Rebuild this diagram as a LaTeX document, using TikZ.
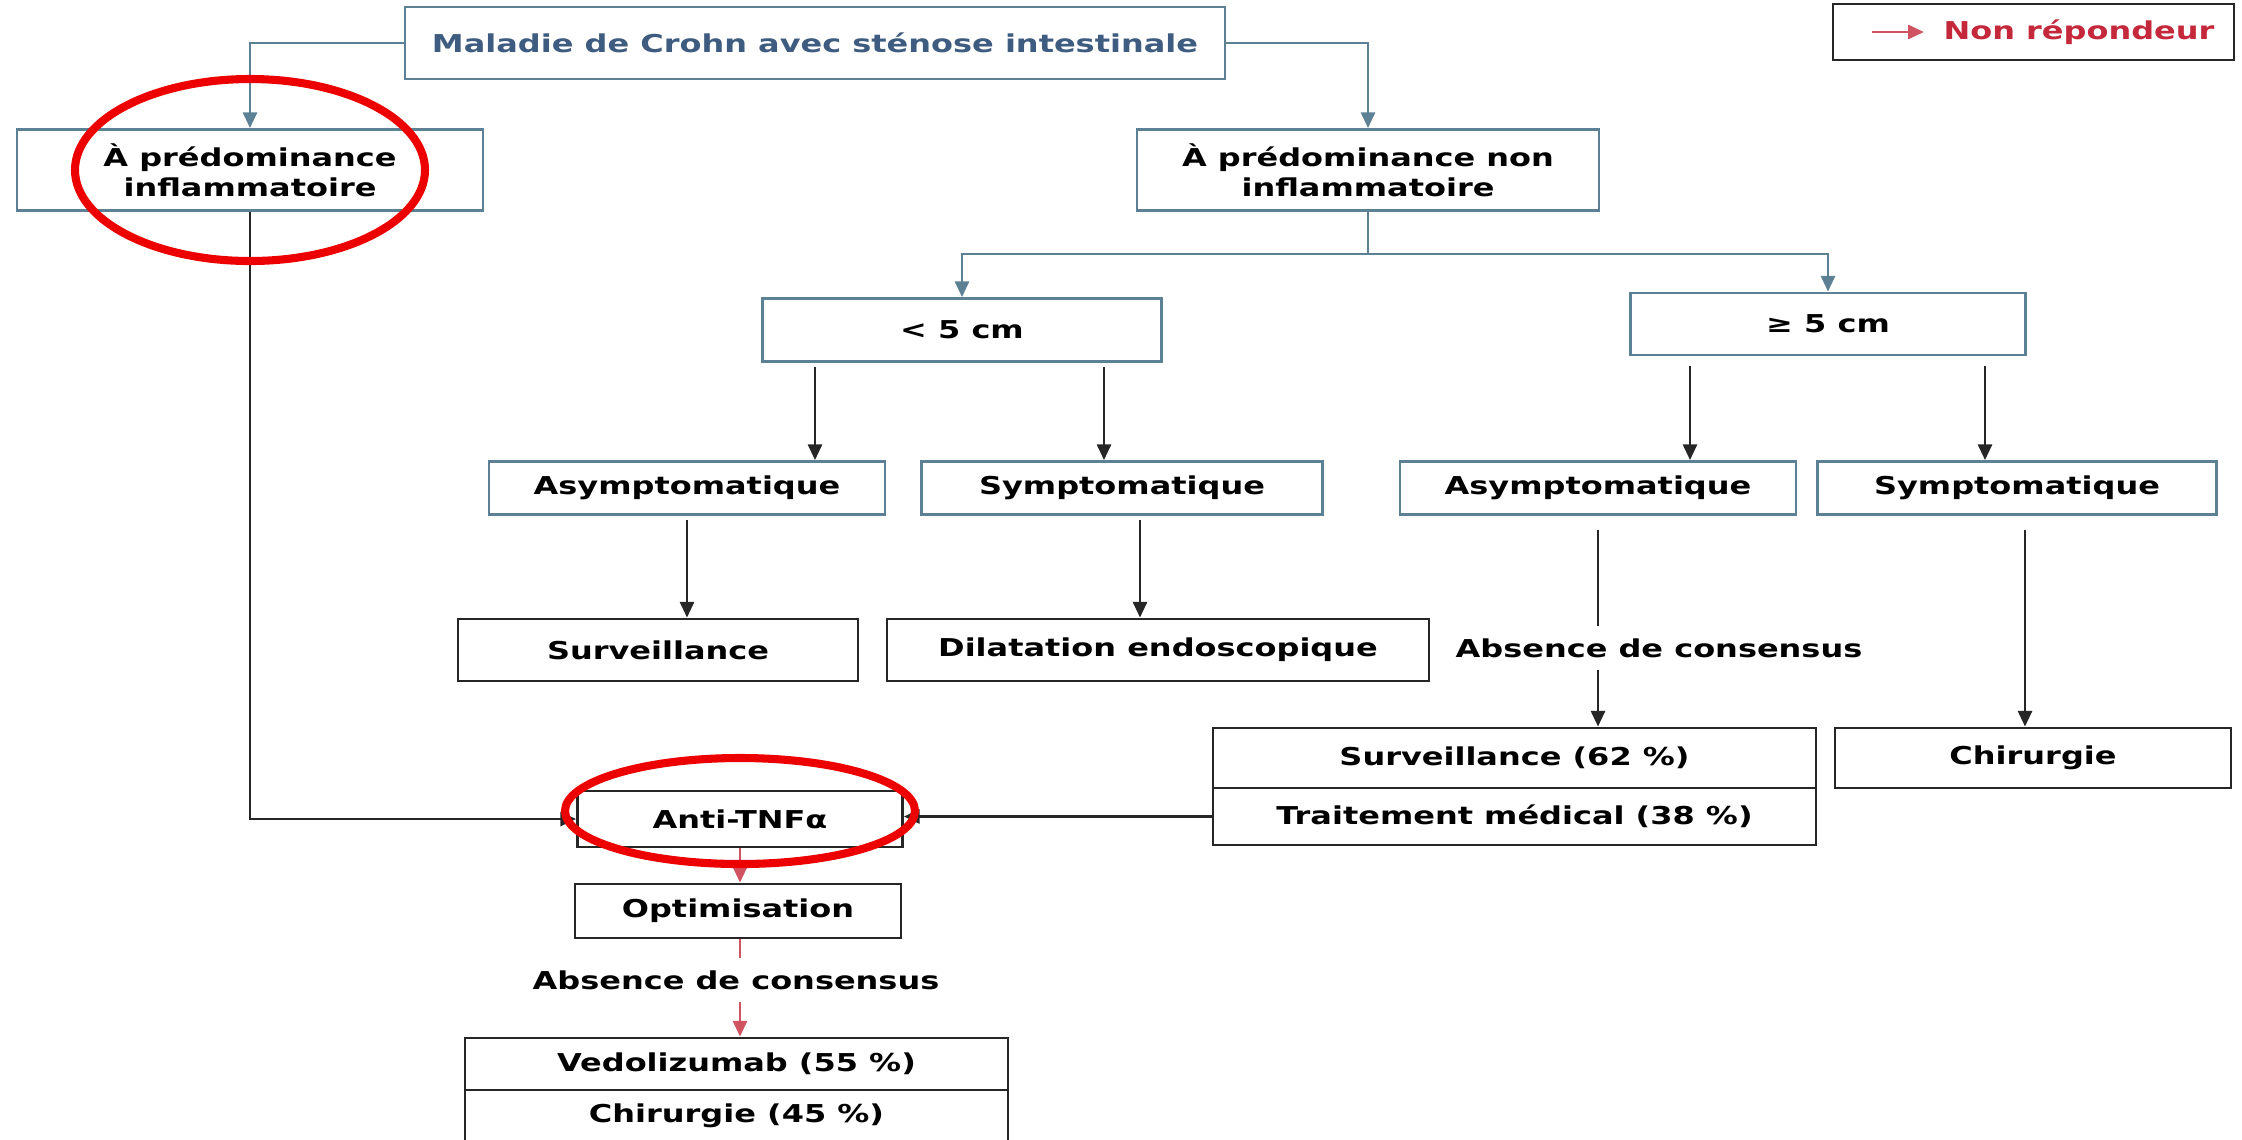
\documentclass[tikz,border=0pt]{standalone}
\usepackage{fontspec}
\setmainfont{DejaVu Sans}[FakeStretch=1.3]
\usepackage{tikz}
\usetikzlibrary{arrows.meta,positioning,calc}
\definecolor{boxblue}{RGB}{92,128,148}
\definecolor{titleblue}{RGB}{62,92,128}
\definecolor{nonrep}{RGB}{196,40,58}
\definecolor{ringred}{RGB}{236,0,0}

\begin{document}
\begin{tikzpicture}[
    every node/.style={font=\fontsize{7}{8.6}\selectfont\bfseries, inner sep=0pt},
    bbox/.style={draw=boxblue, line width=0.8pt, fill=white, align=center},
    kbox/.style={draw=black!85, line width=0.8pt, fill=white, align=center},
    bline/.style={draw=boxblue, line width=0.8pt},
    barr/.style={bline, -{Triangle[length=4.5pt,width=4pt]}},
    kline/.style={draw=black!85, line width=0.8pt},
    karr/.style={kline, -{Triangle[length=4.5pt,width=4pt]}},
    rline/.style={draw=nonrep!80, line width=0.8pt},
    rarr/.style={rline, -{Triangle[length=4.5pt,width=4pt]}},
    ring/.style={draw=ringred, line width=2.3pt}
]
    \useasboundingbox (0,0) rectangle (22.42,-11.39);

    % en-tete
    \node[bbox, text=titleblue, minimum width=8.20cm, minimum height=0.72cm] (crohn) at (8.15,-0.43) {Maladie de Crohn avec sténose intestinale};
    \node[bbox, minimum width=4.66cm, minimum height=0.81cm] (inflam) at (2.50,-1.70) {À prédominance\\inflammatoire};
    \node[bbox, minimum width=4.62cm, minimum height=0.81cm] (noninf) at (13.68,-1.70) {À prédominance non\\inflammatoire};

    % legende
    \node[kbox, minimum width=4.01cm, minimum height=0.56cm] (legend) at (20.335,-0.32) {};
    \node[text=nonrep] (nonrep) at (20.79,-0.32) {Non répondeur};
    \draw[rarr] ([xshift=0.4cm]legend.west) -- ([xshift=-0.19cm]nonrep.west);

    % longueur
    \node[bbox, minimum width=3.99cm, minimum height=0.63cm] (lt5) at (9.62,-3.30) {< 5 cm};
    \node[bbox, minimum width=3.95cm, minimum height=0.62cm] (ge5) at (18.28,-3.24) {≥ 5 cm};

    % symptomes
    \node[bbox, minimum width=3.96cm, minimum height=0.53cm] (asyA) at (6.87,-4.88) {Asymptomatique};
    \node[bbox, minimum width=4.01cm, minimum height=0.53cm] (symA) at (11.22,-4.88) {Symptomatique};
    \node[bbox, minimum width=3.96cm, minimum height=0.53cm] (asyB) at (15.98,-4.88) {Asymptomatique};
    \node[bbox, minimum width=3.99cm, minimum height=0.53cm] (symB) at (20.17,-4.88) {Symptomatique};

    % conduites
    \node[kbox, minimum width=4.00cm, minimum height=0.62cm] (surv) at (6.58,-6.50) {Surveillance};
    \node[kbox, minimum width=5.42cm, minimum height=0.62cm] (dil) at (11.58,-6.50) {Dilatation endoscopique};
    \node[inner sep=0.12cm] (consA) at (16.59,-6.48) {Absence de consensus};
    \node[kbox, minimum width=6.03cm, minimum height=0.60cm] (surv62) at (15.145,-7.58) {Surveillance (62 \%)};
    \node[kbox, minimum width=6.03cm, minimum height=0.57cm] (trait) at (15.145,-8.165) {Traitement médical (38 \%)};
    \node[kbox, minimum width=3.96cm, minimum height=0.60cm] (chir) at (20.33,-7.58) {Chirurgie};

    % anti-TNF
    \node[kbox, minimum width=3.25cm, minimum height=0.56cm] (anti) at (7.40,-8.19) {Anti-TNFα};
    \node[kbox, minimum width=3.26cm, minimum height=0.54cm] (optim) at (7.38,-9.11) {Optimisation};
    \node[inner sep=0.12cm] (consB) at (7.36,-9.80) {Absence de consensus};
    \node[kbox, minimum width=5.43cm, minimum height=0.52cm] (vedo) at (7.365,-10.64) {Vedolizumab (55 \%)};
    \node[kbox, minimum width=5.43cm, minimum height=0.52cm] (chir45) at (7.365,-11.16) {Chirurgie (45 \%)};

    % liaisons
    \draw[barr] (crohn.west) -| (inflam.north);
    \draw[barr] (crohn.east) -| (noninf.north);
    \draw[bline] (noninf.south) -- ++(0,-0.42) coordinate (split);
    \draw[barr] (split) -| (lt5.north);
    \draw[barr] (split) -| (ge5.north);

    \draw[karr] ([xshift=-1.47cm,yshift=-0.04cm]lt5.south) -- ([xshift=-1.47cm]lt5.south |- asyA.north);
    \draw[karr] ([xshift=1.42cm,yshift=-0.04cm]lt5.south) -- ([xshift=1.42cm]lt5.south |- symA.north);
    \draw[karr] ([xshift=-1.38cm,yshift=-0.1cm]ge5.south) -- ([xshift=-1.38cm]ge5.south |- asyB.north);
    \draw[karr] ([xshift=1.57cm,yshift=-0.1cm]ge5.south) -- ([xshift=1.57cm]ge5.south |- symB.north);

    \draw[karr] ([yshift=-0.04cm]asyA.south) -- (asyA.south |- surv.north);
    \draw[karr] ([xshift=0.18cm,yshift=-0.04cm]symA.south) -- ([xshift=0.18cm]symA.south |- dil.north);
    \draw[kline] ([yshift=-0.14cm]asyB.south) -- (asyB.south |- consA.north);
    \draw[karr] (asyB.south |- consA.south) -- (asyB.south |- surv62.north);
    \draw[karr] ([xshift=0.08cm,yshift=-0.14cm]symB.south) -- ([xshift=0.08cm]symB.south |- chir.north);

    \draw[karr] (inflam.south) |- (anti.west);
    \draw[karr] (trait.west) -- (trait.west -| anti.east);

    \draw[rarr] (anti.south) -- (anti.south |- optim.north);
    \draw[rline] (anti.south |- optim.south) -- (anti.south |- consB.north);
    \draw[rarr] (anti.south |- consB.south) -- (anti.south |- vedo.north);

    % annotations
    \draw[ring] (inflam.center) ellipse [x radius=1.75cm, y radius=0.91cm];
    \draw[ring] (7.40,-8.11) ellipse [x radius=1.75cm, y radius=0.53cm];
\end{tikzpicture}
\end{document}
